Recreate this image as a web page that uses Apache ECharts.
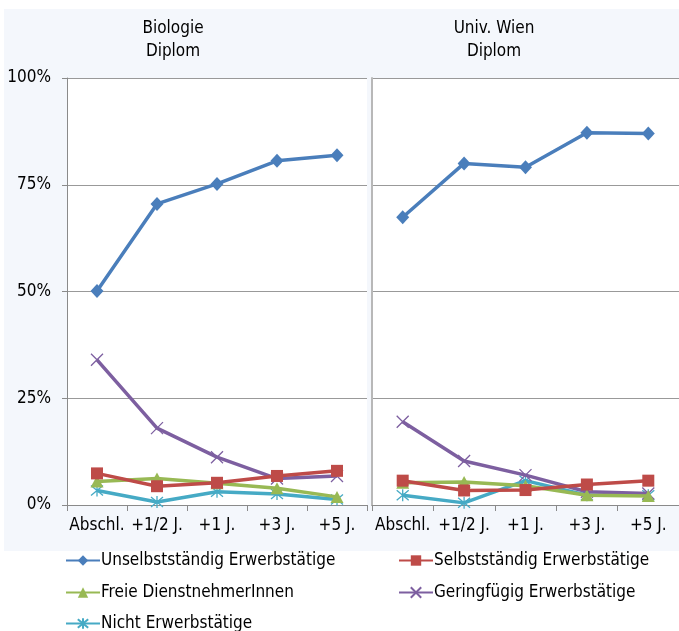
<!DOCTYPE html>
<html>
<head>
<meta charset="utf-8">
<script src="https://cdn.jsdelivr.net/npm/echarts@6/dist/echarts.min.js"></script>
<style>
  html, body { margin: 0; padding: 0; background: #fff; }
  #main { width: 679px; height: 631px; }
</style>
</head>
<body>
<div id="main"></div>
<script>
// categories
var categories = ['Abschl.', '+1/2 J.', '+1 J.', '+3 J.', '+5 J.'];
var seriesNames = ['Unselbstständig Erwerbstätige', 'Selbstständig Erwerbstätige',
  'Freie DienstnehmerInnen', 'Geringfügig Erwerbstätige', 'Nicht Erwerbstätige'];
var panelTitles = ['Biologie\nDiplom', 'Univ. Wien\nDiplom'];

// Biologie Diplom (shares)
var bioUnselb = [0.501, 0.705, 0.752, 0.806, 0.819];
var bioSelb   = [0.074, 0.044, 0.052, 0.068, 0.080];
var bioFreie  = [0.055, 0.062, 0.051, 0.039, 0.019];
var bioGering = [0.340, 0.180, 0.112, 0.062, 0.068];
var bioNicht  = [0.034, 0.007, 0.031, 0.026, 0.013];

// Univ. Wien Diplom (shares)
var uniUnselb = [0.674, 0.800, 0.791, 0.872, 0.870];
var uniSelb   = [0.057, 0.034, 0.035, 0.048, 0.057];
var uniFreie  = [0.052, 0.054, 0.045, 0.023, 0.021];
var uniGering = [0.195, 0.103, 0.070, 0.031, 0.027];
var uniNicht  = [0.023, 0.005, 0.057, 0.023, 0.023];

var yTicks = [0, 0.25, 0.5, 0.75, 1];

var colors = ['#4a7ebb', '#be4b48', '#98b954', '#7d5fa0', '#46aac5'];
var symbols = [
  'diamond',
  'rect',
  'triangle',
  'path://M0,0L10,10M10,0L0,10',
  'path://M0,0L10,10M10,0L0,10M5,-1L5,11'
];
var symbolSizes = [[13, 14], 12, [13, 12], 12, 12];
var font = '"Liberation Sans Narrow", "DejaVu Sans Condensed", sans-serif';

// legend slots: [left, top] per series
var legendPos = [[60, 547], [393, 547], [60, 579], [393, 579], [60, 610]];

var bioData = [bioUnselb, bioSelb, bioFreie, bioGering, bioNicht];
var uniData = [uniUnselb, uniSelb, uniFreie, uniGering, uniNicht];

function makeSeries(data, idx) {
  return data.map(function (vals, i) {
    var open = i >= 3;
    return {
      name: seriesNames[i],
      type: 'line',
      xAxisIndex: idx,
      yAxisIndex: idx,
      data: vals,
      symbol: symbols[i],
      symbolSize: symbolSizes[i],
      showAllSymbol: true,
      lineStyle: { color: colors[i], width: 3.5 },
      itemStyle: open
        ? { color: 'rgba(0,0,0,0)', borderColor: colors[i], borderWidth: 1.3 }
        : { color: colors[i] },
      emphasis: { disabled: true },
      z: 10 - i
    };
  });
}

var myChart = echarts.init(document.getElementById('main'), null, { renderer: 'canvas' });

var axisGray = '#8a8a8a';

var option = {
  animation: false,
  backgroundColor: '#ffffff',
  textStyle: { fontFamily: font },
  graphic: [
    { type: 'rect', shape: { x: 4, y: 9, width: 675, height: 542 },
      style: { fill: '#f4f7fc' }, z: -10, silent: true }
  ],
  title: panelTitles.map(function (t, i) {
    return {
      text: t,
      left: i === 0 ? 168 : 489,
      top: 12,
      textAlign: 'center',
      textStyle: { fontFamily: font, fontSize: 17, fontWeight: 'normal', color: '#000', lineHeight: 23 }
    };
  }),
  legend: seriesNames.map(function (n, i) {
    return {
      data: [n],
      left: legendPos[i][0], top: legendPos[i][1],
      itemWidth: 34, itemHeight: 13,
      selectedMode: false,
      textStyle: { fontFamily: font, fontSize: 17, color: '#000', padding: [0, 0, 0, -4] }
    };
  }),
  grid: [
    { left: 67, top: 78, width: 300, height: 427, show: true, backgroundColor: '#fff', borderWidth: 0 },
    { left: 372, top: 78, width: 310, height: 427, show: true, backgroundColor: '#fff', borderWidth: 0 }
  ],
  xAxis: [0, 1].map(function (i) {
    return {
      type: 'category', gridIndex: i, data: categories, boundaryGap: true,
      axisLine: { lineStyle: { color: axisGray, width: 1 } },
      axisTick: { show: true, length: 6, lineStyle: { color: axisGray } },
      axisLabel: { color: '#000', fontSize: 17, fontFamily: font, margin: 12, interval: 0 }
    };
  }),
  yAxis: [0, 1].map(function (i) {
    return {
      type: 'value', gridIndex: i, min: yTicks[0], max: yTicks[yTicks.length - 1], interval: 0.25,
      axisLine: { show: true, lineStyle: { color: i === 0 ? axisGray : '#b8b8b8', width: i === 0 ? 1 : 2 } },
      axisTick: { show: i === 0, length: 5, lineStyle: { color: axisGray } },
      axisLabel: {
        show: i === 0, color: '#000', fontSize: 17, fontFamily: font, margin: 16,
        formatter: function (v) { return Math.round(v * 100) + '%'; }
      },
      splitLine: { show: true, lineStyle: { color: '#999', width: 1 } }
    };
  }),
  series: makeSeries(bioData, 0).concat(makeSeries(uniData, 1))
};

myChart.setOption(option);
window.addEventListener('resize', function () {
  myChart.resize();
});
</script>
</body>
</html>
